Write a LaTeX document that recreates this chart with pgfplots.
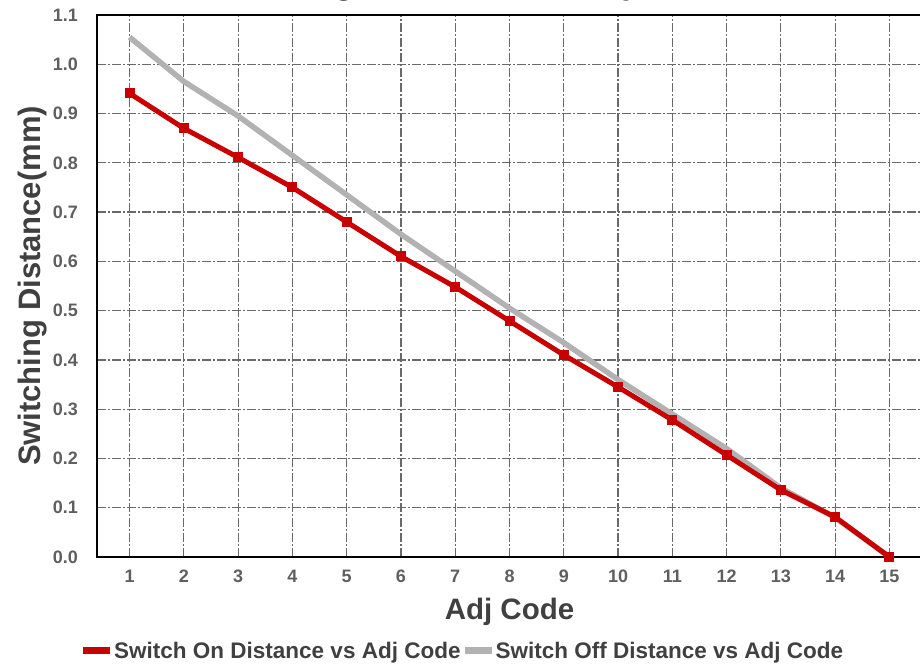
\documentclass[border=0pt]{standalone}
\usepackage{fontspec}
\setmainfont{Liberation Sans}
\usepackage{pgfplots}
\pgfplotsset{compat=1.18}
\definecolor{onred}{RGB}{200,0,0}
\definecolor{offgray}{RGB}{178,178,178}
\definecolor{gridgray}{RGB}{105,105,105}
\definecolor{labgray}{RGB}{64,64,64}
\definecolor{tickgray}{RGB}{95,95,95}

\begin{document}
\begin{tikzpicture}
\begin{axis}[
    at={(0pt,0pt)}, anchor=south west,
    scale only axis,
    width=825pt, height=542pt,
    xmin=0.4, xmax=15.6,
    ymin=0, ymax=1.1,
    xtick={1,...,15},
    ytick={0,0.1,...,1.1},
    major tick length=0pt,
    grid=major,
    major grid style={draw=gridgray, line width=1.2pt, dash pattern=on 9pt off 2pt on 2pt off 2pt},
    axis line style={black, line width=2pt},
    /pgf/number format/assume math mode=true,
    tick label style={font=\bfseries\fontsize{18}{18}\selectfont, text=tickgray, inner sep=0pt},
    yticklabel style={anchor=east, xshift=-19pt,
        /pgf/number format/.cd, fixed, fixed zerofill, precision=1},
    xticklabel style={anchor=north, yshift=-13pt},
    xlabel={Adj Code},
    ylabel={Switching Distance(mm)},
    xlabel style={font=\bfseries\fontsize{29.5}{30}\selectfont, text=labgray,
        at={(axis description cs:0.5,-0.1162)}, anchor=base, inner sep=0pt},
    ylabel style={font=\bfseries\fontsize{31}{32}\selectfont, text=labgray,
        at={(axis description cs:-0.069,0.5)}, anchor=base, inner sep=0pt},
    title={Switching Distance vs Adj Code},
    title style={font=\bfseries\fontsize{36}{36}\selectfont,
        at={(axis description cs:0.44,1.0277)}, anchor=base, inner sep=0pt},
    legend columns=2,
    legend style={at={(axis description cs:0.442,-0.1734)}, anchor=center,
        draw=none, fill=none, inner sep=0pt,
        font=\bfseries\fontsize{22.5}{23}\selectfont, text=labgray,
        nodes={inner sep=0.5pt},
        /tikz/every even column/.append style={column sep=0pt}},
    legend image code/.code={\draw[#1, line width=7pt] (0pt,0pt) -- (27pt,0pt);},
]
\addlegendimage{onred}
\addlegendentry{Switch On Distance vs Adj Code}
\addlegendimage{offgray}
\addlegendentry{Switch Off Distance vs Adj Code}

% switch off distance
\addplot[offgray, line width=5.5pt, forget plot] coordinates {
    (1,1.055) (2,0.965) (3,0.895) (4,0.815) (5,0.735)
    (6,0.655) (7,0.580) (8,0.505) (9,0.435) (10,0.360)
    (11,0.290) (12,0.220) (13,0.140) (14,0.080) (15,0.0)
};
% switch on distance
\addplot[onred, line width=5pt, mark=square*, mark size=4.5pt,
    mark options={fill=onred, draw=onred, line width=0pt}, forget plot] coordinates {
    (1,0.941) (2,0.870) (3,0.811) (4,0.750) (5,0.680)
    (6,0.610) (7,0.548) (8,0.479) (9,0.410) (10,0.345)
    (11,0.278) (12,0.207) (13,0.136) (14,0.081) (15,0.0)
};
\end{axis}
\pgfresetboundingbox
\useasboundingbox (-97pt,-109pt) rectangle (823pt,557pt);
\end{tikzpicture}
\end{document}
